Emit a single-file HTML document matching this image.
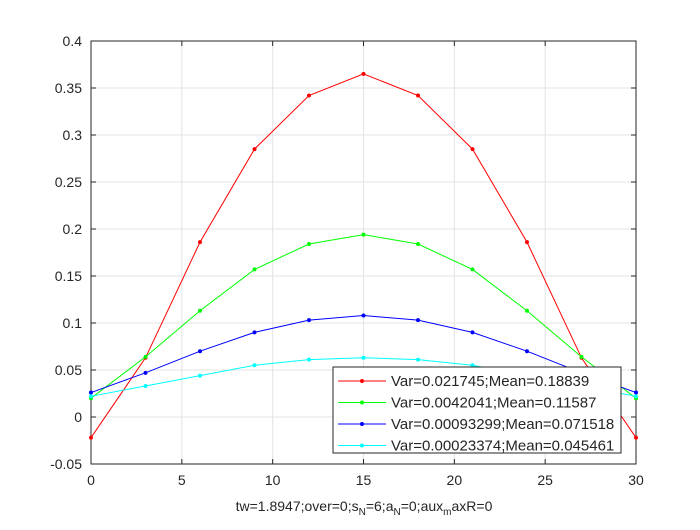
<!DOCTYPE html>
<html><head><meta charset="utf-8"><style>
body{margin:0;background:#fff;width:700px;height:525px;overflow:hidden}
text{font-family:"Liberation Sans",sans-serif;font-size:14px;fill:#262626}
</style></head><body>
<svg id="chart" width="700" height="525" xmlns="http://www.w3.org/2000/svg"></svg>
<script>
const xValues=[0,3,6,9,12,15,18,21,24,27,30];
const redValues=[-0.022,0.063,0.186,0.285,0.342,0.365,0.342,0.285,0.186,0.063,-0.022];
const greenValues=[0.020,0.064,0.113,0.157,0.184,0.194,0.184,0.157,0.113,0.064,0.020];
const blueValues=[0.026,0.047,0.070,0.090,0.103,0.108,0.103,0.090,0.070,0.047,0.026];
const cyanValues=[0.022,0.033,0.044,0.055,0.061,0.063,0.061,0.055,0.044,0.033,0.022];
const xTicks=[0,5,10,15,20,25,30];
const yTicks=[-0.05,0,0.05,0.1,0.15,0.2,0.25,0.3,0.35,0.4];
const yTickLabels=["-0.05","0","0.05","0.1","0.15","0.2","0.25","0.3","0.35","0.4"];
const seriesNames=["Var=0.021745;Mean=0.18839","Var=0.0042041;Mean=0.11587","Var=0.00093299;Mean=0.071518","Var=0.00023374;Mean=0.045461"];
const seriesColors=["#ff0000","#00ff00","#0000ff","#00ffff"];
const L=91,R=636,T=41,B=464;
const sx=v=>L+(v-0)/(30-0)*(R-L);
const sy=v=>B-(v+0.05)/(0.45)*(B-T);
const svg=document.getElementById('chart');
const NS='http://www.w3.org/2000/svg';
function mk(tag,attrs,parent){const e=document.createElementNS(NS,tag);for(const k in attrs)e.setAttribute(k,attrs[k]);(parent||svg).appendChild(e);return e;}
const bg=mk('rect',{x:L,y:T,width:R-L,height:B-T,fill:'#fff'});


xTicks.forEach(t=>{const g=mk('line',{x1:sx(t),x2:sx(t),y1:T,y2:B,stroke:'#e3e3e3','stroke-width':1});


const tl=mk('text',{x:sx(t),y:B+21,'text-anchor':'middle'});tl.textContent=t;


mk('line',{x1:sx(t),x2:sx(t),y1:B,y2:B-5,stroke:'#262626'});mk('line',{x1:sx(t),x2:sx(t),y1:T,y2:T+5,stroke:'#262626'});});
yTicks.forEach((t,i)=>{const g=mk('line',{x1:L,x2:R,y1:sy(t),y2:sy(t),stroke:'#e3e3e3','stroke-width':1});


const tl=mk('text',{x:L-9,y:sy(t)+5,'text-anchor':'end'});tl.textContent=yTickLabels[i];


mk('line',{x1:L,x2:L+5,y1:sy(t),y2:sy(t),stroke:'#262626'});mk('line',{x1:R,x2:R-5,y1:sy(t),y2:sy(t),stroke:'#262626'});});
const box=mk('rect',{x:L,y:T,width:R-L,height:B-T,fill:'none',stroke:'#262626','stroke-width':1});


[redValues,greenValues,blueValues,cyanValues].forEach((vals,si)=>{
const pts=vals.map((v,i)=>sx(xValues[i])+','+sy(v)).join(' ');
const pl=mk('polyline',{points:pts,fill:'none',stroke:seriesColors[si],'stroke-width':1});


vals.forEach((v,i)=>{const c=mk('circle',{cx:sx(xValues[i]),cy:sy(v),r:2,fill:seriesColors[si]});

});});
const xt=mk('text',{x:364,y:511,'text-anchor':'middle'});


xt.innerHTML='tw=1.8947;over=0;s<tspan dy="4" font-size="10">N</tspan><tspan dy="-4">=6;a</tspan><tspan dy="4" font-size="10">N</tspan><tspan dy="-4">=0;aux</tspan><tspan dy="4" font-size="10">m</tspan><tspan dy="-4">axR=0</tspan>';
const lg=mk('g',{});


mk('rect',{x:333,y:367,width:288,height:86,fill:'#fff',stroke:'#262626','stroke-width':1},lg);
seriesNames.forEach((n,i)=>{const y=381+i*21.5;
mk('line',{x1:338,x2:386,y1:y,y2:y,stroke:seriesColors[i]},lg);
mk('circle',{cx:362,cy:y,r:2,fill:seriesColors[i]},lg);
const t=mk('text',{x:391,y:y+5,style:'font-size:15px'},lg);t.textContent=n;

});
</script>
</body></html>
